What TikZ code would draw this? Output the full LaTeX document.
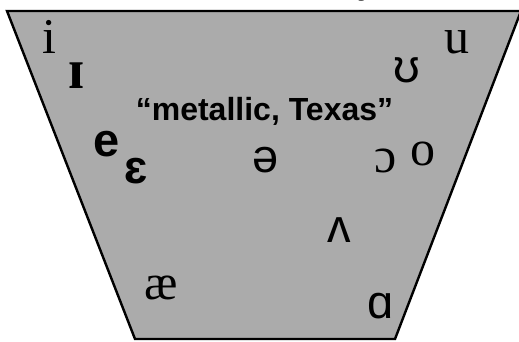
\documentclass[tikz,border=0pt]{standalone}
\usepackage{fontspec}
\setmainfont{Liberation Serif}
\setsansfont{Liberation Sans}
\definecolor{chartgray}{RGB}{171,171,171}
\begin{document}
\begin{tikzpicture}[x=1pt,y=-1pt,
  vowel/.style={anchor=base, inner sep=0pt, font=\fontsize{50}{50}\selectfont},
  vowelsans/.style={anchor=base, inner sep=0pt, font=\sffamily\fontsize{47}{47}\selectfont},
  vowelbold/.style={anchor=base, inner sep=0pt, font=\sffamily\bfseries\fontsize{47}{47}\selectfont},
  caption/.style={anchor=base, inner sep=0pt, font=\sffamily\bfseries\fontsize{32}{32}\selectfont},
  chart/.style={fill=chartgray, draw=black, line width=2.4pt, line join=miter}]
\useasboundingbox (0,0) rectangle (519,341);
\clip (0,0) rectangle (519,341);

% vowel space
\coordinate (tl) at (7,11);
\coordinate (tr) at (521,11);
\coordinate (br) at (395,339);
\coordinate (bl) at (135,339);
\draw[chart] (tl) -- (tr) -- (br) -- (bl) -- cycle;

% tail of a heading letter above the chart
\node[caption] (head) at (366,-6) {y};

% front vowels
\node[vowel] (i) at (49.5,53) {i};
\node[vowel, font=\bfseries\fontsize{56}{56}\selectfont] (ih) at (76.5,88) {ɪ};
\node[vowelbold] (e) at (107,156) {e};
\node[vowelbold] (eh) at (136.5,183) {ɛ};
\node[vowel] (ae) at (161,299) {æ};

% central
\node[caption] (label) at (264.5,120) {“metallic, Texas”};
\node[vowelsans] (schwa) at (266,172) {ə};
\node[vowelsans] (wedge) at (339.5,242) {ʌ};

% back vowels
\node[vowel] (u) at (456.5,53) {u};
\node[vowelsans] (uh) at (406.5,82) {ʊ};
\node[vowel] (oo) at (386,172) {ɔ};
\node[vowel] (o) at (422.5,165) {o};
\node[vowelsans] (aa) at (380.5,318) {ɑ};
\end{tikzpicture}
\end{document}
